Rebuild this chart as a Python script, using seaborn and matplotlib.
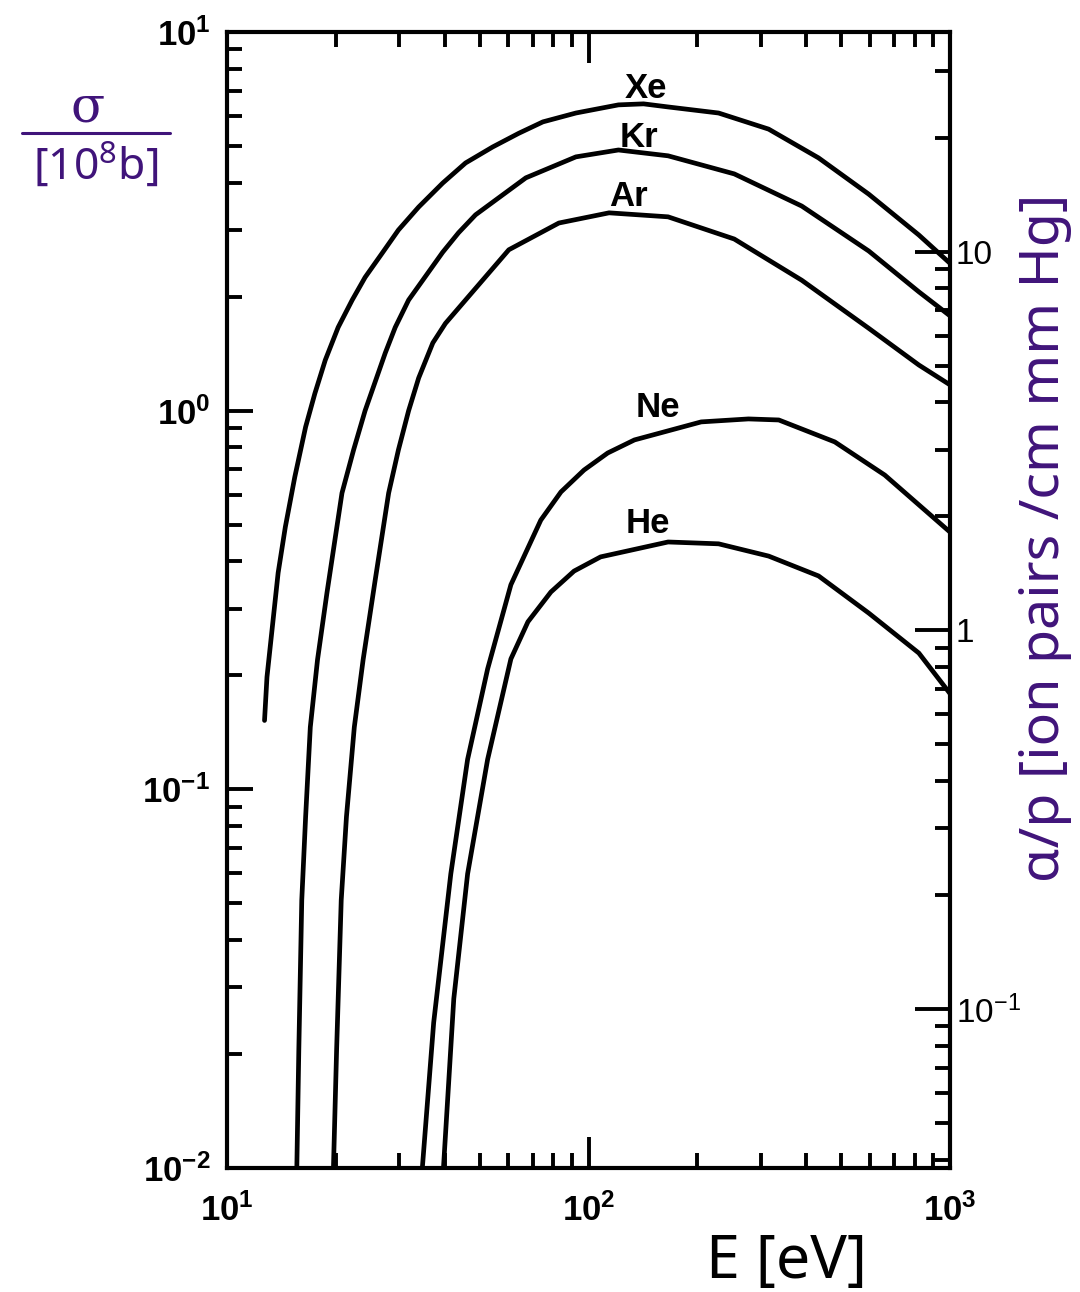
import matplotlib
matplotlib.use("Agg")
import matplotlib.pyplot as plt
import numpy as np
import pandas as pd
import seaborn as sns
from matplotlib.lines import Line2D
from matplotlib.ticker import LogLocator, NullFormatter

# Ionisation cross sections of the noble gases vs. electron energy
E_xe = [12.7, 12.9, 13.85, 14.5, 15.4, 16.5, 17.5, 18.7, 20.3, 22.2, 24.1, 26.9, 29.8, 33.9, 39.5,
        45.7, 54.3, 64.1, 74.8, 92.3, 121, 142, 166, 229, 315, 433, 596, 820, 1000]
s_xe = [0.152, 0.198, 0.373, 0.493, 0.668, 0.906, 1.11, 1.36, 1.66, 1.96, 2.25, 2.61, 3.00, 3.45, 3.99,
        4.51, 4.97, 5.40, 5.79, 6.11, 6.42, 6.46, 6.34, 6.11, 5.54, 4.65, 3.73, 2.91, 2.45]

E_kr = [15.6, 15.8, 16.1, 16.5, 17.0, 17.8, 18.9, 20.8, 22.4, 24.1, 27.4, 29.2, 31.8, 39.5, 43.7,
        48.7, 67.1, 92.3, 121, 166, 253, 389, 596, 820, 1000]
s_kr = [0.01, 0.0205, 0.051, 0.0846, 0.146, 0.22, 0.33, 0.606, 0.788, 1.00, 1.42, 1.66, 1.96, 2.62, 2.95,
        3.29, 4.12, 4.68, 4.88, 4.71, 4.22, 3.47, 2.64, 2.06, 1.78]

E_ar = [19.7, 20.1, 20.7, 21.4, 22.5, 23.8, 25.7, 28.0, 29.8, 31.8, 33.9, 37.1, 40.2, 45.7, 60.2, 82.8,
        114, 166, 253, 389, 596, 820, 1000]
s_ar = [0.01, 0.0205, 0.051, 0.0846, 0.146, 0.22, 0.357, 0.606, 0.788, 1.00, 1.22, 1.51, 1.70, 1.96, 2.66, 3.13,
        3.33, 3.25, 2.84, 2.21, 1.65, 1.32, 1.17]

E_ne = [34.7, 37.3, 41.6, 46.3, 52.6, 61.0, 73.8, 83.9, 97.2, 113, 134, 205, 277, 336, 480, 660, 1000]
s_ne = [0.01, 0.0242, 0.0598, 0.120, 0.208, 0.347, 0.514, 0.610, 0.697, 0.773, 0.837, 0.934, 0.951, 0.945,
        0.827, 0.676, 0.478]

E_he = [39.7, 42.4, 46.3, 52.6, 61.0, 68.0, 78.7, 91.2, 108, 166, 229, 315, 433, 596, 820, 1000]
s_he = [0.01, 0.028, 0.0598, 0.120, 0.221, 0.277, 0.332, 0.377, 0.411, 0.450, 0.445, 0.413, 0.366, 0.292, 0.229, 0.179]

gases = ["Xe", "Kr", "Ar", "Ne", "He"]
label_x = [144, 138, 129, 156, 146]
label_y = [7.11, 5.28, 3.67, 1.02, 0.505]

x_ticks = [10, 100, 1000]
x_ticklabels = [r"$\mathregular{10^{1}}$", r"$\mathregular{10^{2}}$", r"$\mathregular{10^{3}}$"]
y_ticks = [10, 1, 0.1, 0.01]
y_ticklabels = [r"$\mathregular{10^{1}}$", r"$\mathregular{10^{0}}$",
                r"$\mathregular{10^{-1}}$", r"$\mathregular{10^{-2}}$"]
y2_ticks = [10, 1, 0.1]
y2_ticklabels = ["10", "1", r"$\mathregular{10^{-1}}$"]
alpha_scale = 3.8  # alpha/p per unit of sigma

df = pd.concat([
    pd.DataFrame({"E": E, "sigma": s, "gas": g})
    for g, E, s in zip(gases, [E_xe, E_kr, E_ar, E_ne, E_he], [s_xe, s_kr, s_ar, s_ne, s_he])
], ignore_index=True)

sns.set_theme(style="ticks")
plt.rcParams["font.family"] = ["Liberation Sans Narrow", "Liberation Sans", "DejaVu Sans"]
plt.rcParams["mathtext.default"] = "regular"
plt.rcParams["text.color"] = "black"
plt.rcParams["xtick.labelcolor"] = "black"
plt.rcParams["ytick.labelcolor"] = "black"

W, H = 1080, 1292
fig = plt.figure(figsize=(W / 100, H / 100), dpi=100)
ax = fig.add_axes([227 / W, 1 - 1168 / H, (950 - 227) / W, (1168 - 32) / H])

sns.lineplot(data=df, x="E", y="sigma", hue="gas", units="gas", estimator=None,
             palette=["black"] * 5, linewidth=3.4, legend=False, ax=ax, sort=False,
             solid_joinstyle="round", solid_capstyle="round")

ax.set_xscale("log")
ax.set_yscale("log")
ax.set_xlim(10, 1000)
ax.set_ylim(0.01, 10)
ax.set_xlabel("")
ax.set_ylabel("")

for side in ["left", "right", "top", "bottom"]:
    ax.spines[side].set_visible(True)
    ax.spines[side].set_linewidth(3.0)
    ax.spines[side].set_color("black")

ax.set_xticks(x_ticks)
ax.set_xticklabels(x_ticklabels, fontsize=25, fontweight="bold")
ax.set_yticks(y_ticks)
ax.set_yticklabels(y_ticklabels, fontsize=25, fontweight="bold")
ax.xaxis.set_minor_locator(LogLocator(base=10, subs=np.arange(2, 10)))
ax.yaxis.set_minor_locator(LogLocator(base=10, subs=np.arange(2, 10)))
ax.xaxis.set_minor_formatter(NullFormatter())
ax.yaxis.set_minor_formatter(NullFormatter())
ax.tick_params(axis="both", which="both", direction="in", color="black", width=2.8,
               labelcolor="black", top=True, bottom=True, left=True, right=False)
ax.tick_params(axis="x", which="major", length=22, pad=18)
ax.tick_params(axis="x", which="minor", length=11)
ax.tick_params(axis="y", which="major", length=19, pad=12)
ax.tick_params(axis="y", which="minor", length=11)

for g, lx, ly in zip(gases, label_x, label_y):
    ax.text(lx, ly, g, fontsize=25, fontweight="bold", ha="center", va="center", color="black")

# right-hand scale: alpha/p
ax2 = ax.twinx()
ax2.set_yscale("log")
ax2.set_ylim(0.01 * alpha_scale, 10 * alpha_scale)
ax2.set_yticks(y2_ticks)
ax2.set_yticklabels(y2_ticklabels, fontsize=24)
ax2.yaxis.set_minor_locator(LogLocator(base=10, subs=np.arange(2, 10)))
ax2.yaxis.set_minor_formatter(NullFormatter())
ax2.tick_params(axis="y", which="both", direction="in", color="black", width=2.8,
                labelcolor="black", left=False, right=True)
ax2.tick_params(axis="y", which="major", length=25, pad=4)
ax2.tick_params(axis="y", which="minor", length=11)
for side in ["left", "right", "top", "bottom"]:
    ax2.spines[side].set_visible(False)

purple = "#40147a"
lab_font = ["Noto Sans", "DejaVu Sans"]
fig.text(88 / W, 1 - 108 / H, "σ", fontsize=36, color=purple, ha="center", va="center",
         family=["DejaVu Serif"])
fig.add_artist(Line2D([22 / W, 170 / W], [1 - 133 / H, 1 - 133 / H], color=purple, lw=2.2))
fig.text(96 / W, 1 - 166 / H, r"[10$^{8}$b]", fontsize=32, color=purple,
         ha="center", va="center", family=lab_font)
fig.text(787 / W, 1 - 1262 / H, "E [eV]", fontsize=44, color="black",
         ha="center", va="center", family=lab_font)
fig.text(1045 / W, 1 - 538 / H, "α/p [ion pairs /cm mm Hg]", fontsize=40, color=purple,
         ha="center", va="center", rotation=90, family=lab_font)

fig.savefig("out.png", dpi=100, facecolor="white")
